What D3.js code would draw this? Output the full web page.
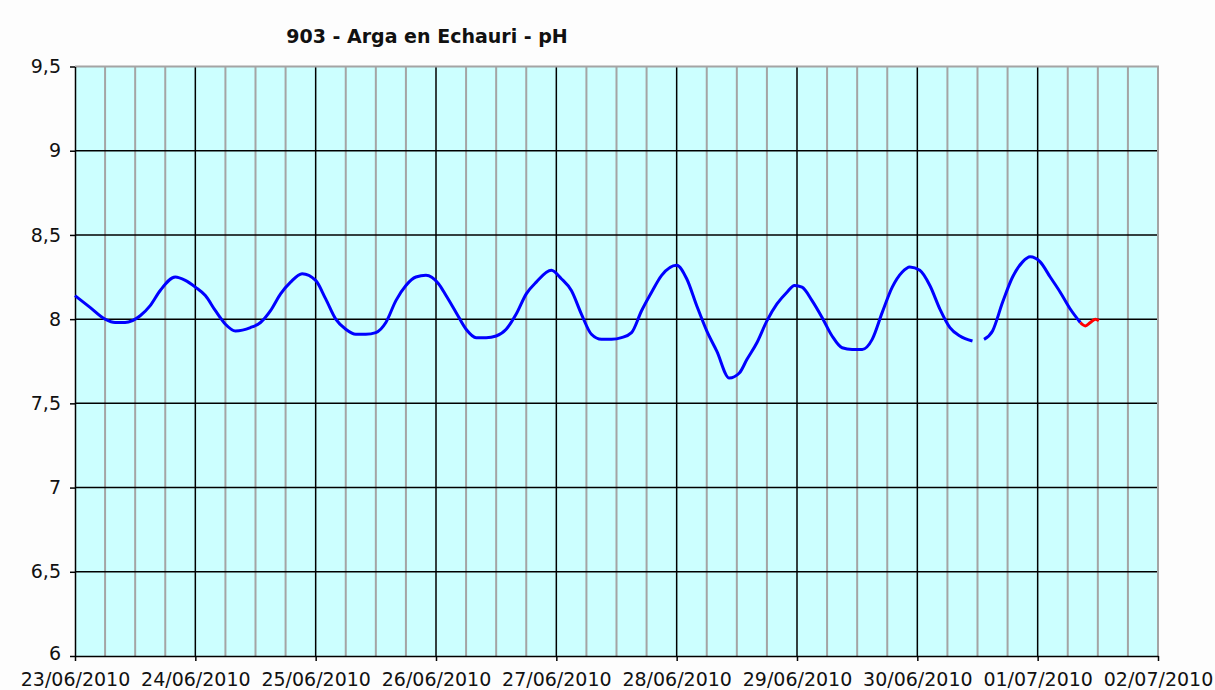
<!DOCTYPE html>
<html><head><meta charset="utf-8">
<script src="https://cdn.jsdelivr.net/npm/d3@7"></script>
<style>body{margin:0;background:#fdfdfd}svg{display:block}</style>
</head><body><svg id="c" width="1215" height="690"></svg>
<script>
// hours since 23/06/2010 00:00, pH values
const blueHours1 = [0,3,6,8,10,13,15,17,20,22,24,26,28,30,32,35,37,39,41,43,45.3,48,50,52,54,56,58,60,62,64,66,68,70,72.5,74,76,78,80,82,84,86,88,90,92,95,97,99,101,103,105,107,109,111,113,115,117,120,122,124,126,128,130.5,132.5,134,136,138,140,142,143.5,145,147,149,151,153,155,157,159,161,163,165,166.5,168.5,170.5,172.5,174.5,176.5,179];
const blueVals1  = [8.14,8.07,8.0,7.98,7.98,8.02,8.08,8.17,8.25,8.23,8.19,8.14,8.05,7.97,7.93,7.95,7.98,8.05,8.15,8.22,8.27,8.23,8.12,8.0,7.94,7.91,7.91,7.92,7.98,8.11,8.2,8.25,8.26,8.21,8.14,8.04,7.94,7.89,7.89,7.9,7.94,8.03,8.15,8.22,8.29,8.24,8.17,8.03,7.91,7.88,7.88,7.89,7.92,8.05,8.16,8.26,8.32,8.24,8.08,7.93,7.81,7.65,7.68,7.76,7.86,7.99,8.09,8.16,8.2,8.19,8.11,8.01,7.9,7.83,7.82,7.82,7.88,8.04,8.19,8.28,8.31,8.29,8.2,8.06,7.95,7.9,7.87];
const blueHours2 = [181.3,183,185,187,189,190.5,192.5,194.5,196.5,198.5,200.5];
const blueVals2  = [7.88,7.93,8.1,8.25,8.34,8.37,8.34,8.25,8.16,8.06,7.98];
const redHours = [200.5,201.5,202.5,203.5,204.2];
const redVals  = [7.98,7.96,7.98,8.0,7.99];
const yTicks = [6,6.5,7,7.5,8,8.5,9,9.5];
const yTickLabels = ["6","6,5","7","7,5","8","8,5","9","9,5"];
const xTickLabels = ["23/06/2010","24/06/2010","25/06/2010","26/06/2010","27/06/2010","28/06/2010","29/06/2010","30/06/2010","01/07/2010","02/07/2010"];
const title = "903 - Arga en Echauri - pH";

const svg = d3.select("#c");
const L=75, R=1158, T=66.5, B=656;
const t0 = new Date(2010,5,23);
const hToDate = h => new Date(t0.getTime()+h*3600000);
const x = d3.scaleTime().domain([t0, new Date(2010,6,2)]).range([L,R]);
const y = d3.scaleLinear().domain([6,9.5]).range([B,T]);

svg.append("rect").attr("x",L).attr("y",T).attr("width",R-L).attr("height",B-T).attr("fill","#ccffff");

// minor vertical grid (every 6h)
const minor = d3.timeHour.every(6).range(t0, new Date(2010,6,2,1)).filter(d=>d.getHours()!==0);
svg.append("g").selectAll("line").data(minor).join("line")
  .attr("x1",d=>x(d)).attr("x2",d=>x(d)).attr("y1",T).attr("y2",B)
  .attr("stroke","#a4a4a4").attr("stroke-width",2);
// major vertical grid
const days = d3.timeDay.range(t0, new Date(2010,6,2,1));
svg.append("g").selectAll("line").data(days.slice(1,-1)).join("line")
  .attr("x1",d=>x(d)).attr("x2",d=>x(d)).attr("y1",T).attr("y2",B)
  .attr("stroke","#000").attr("stroke-width",1.5);
// horizontal grid
svg.append("g").selectAll("line").data(yTicks.slice(1,-1)).join("line")
  .attr("x1",L).attr("x2",R).attr("y1",d=>y(d)).attr("y2",d=>y(d))
  .attr("stroke","#000").attr("stroke-width",1.5);
// top/right border
svg.append("path").attr("d",`M${L},${T}H${R}V${B}`).attr("fill","none").attr("stroke","#a4a4a4").attr("stroke-width",2);

// axes
const font = "'DejaVu Sans', Verdana, sans-serif";
const yAxis = svg.append("g").attr("transform",`translate(${L},0)`)
  .call(d3.axisLeft(y).tickValues(yTicks).tickFormat((d,i)=>yTickLabels[i]).tickSize(5).tickSizeOuter(0).tickPadding(9));
const xAxis = svg.append("g").attr("transform",`translate(0,${B})`)
  .call(d3.axisBottom(x).tickValues(days).tickFormat((d,i)=>xTickLabels[i]).tickSize(5).tickSizeOuter(0).tickPadding(12));
[yAxis,xAxis].forEach(g=>{
  g.select(".domain").attr("stroke","#000").attr("stroke-width",1.5);
  g.selectAll(".tick line").attr("stroke","#000").attr("stroke-width",1.5);
  g.selectAll("text").attr("font-family",font).attr("font-size",19).attr("fill","#111");
});
yAxis.select(".tick text").attr("dy","0.2em");

const line = d3.line().x(d=>x(hToDate(d[0]))).y(d=>y(d[1])).curve(d3.curveMonotoneX);
const series = [[blueHours1,blueVals1,"#0000ff"],[blueHours2,blueVals2,"#0000ff"],[redHours,redVals,"#ff0000"]];
series.forEach(([h,v,c])=>{
  svg.append("path").datum(h.map((d,i)=>[d,v[i]])).attr("d",line)
    .attr("fill","none").attr("stroke",c).attr("stroke-width",3).attr("stroke-linejoin","round");
});

svg.append("text").attr("x",427).attr("y",43).attr("text-anchor","middle")
  .attr("font-family",font).attr("font-weight","bold").attr("font-size",19).attr("fill","#111").text(title);
</script></body></html>
